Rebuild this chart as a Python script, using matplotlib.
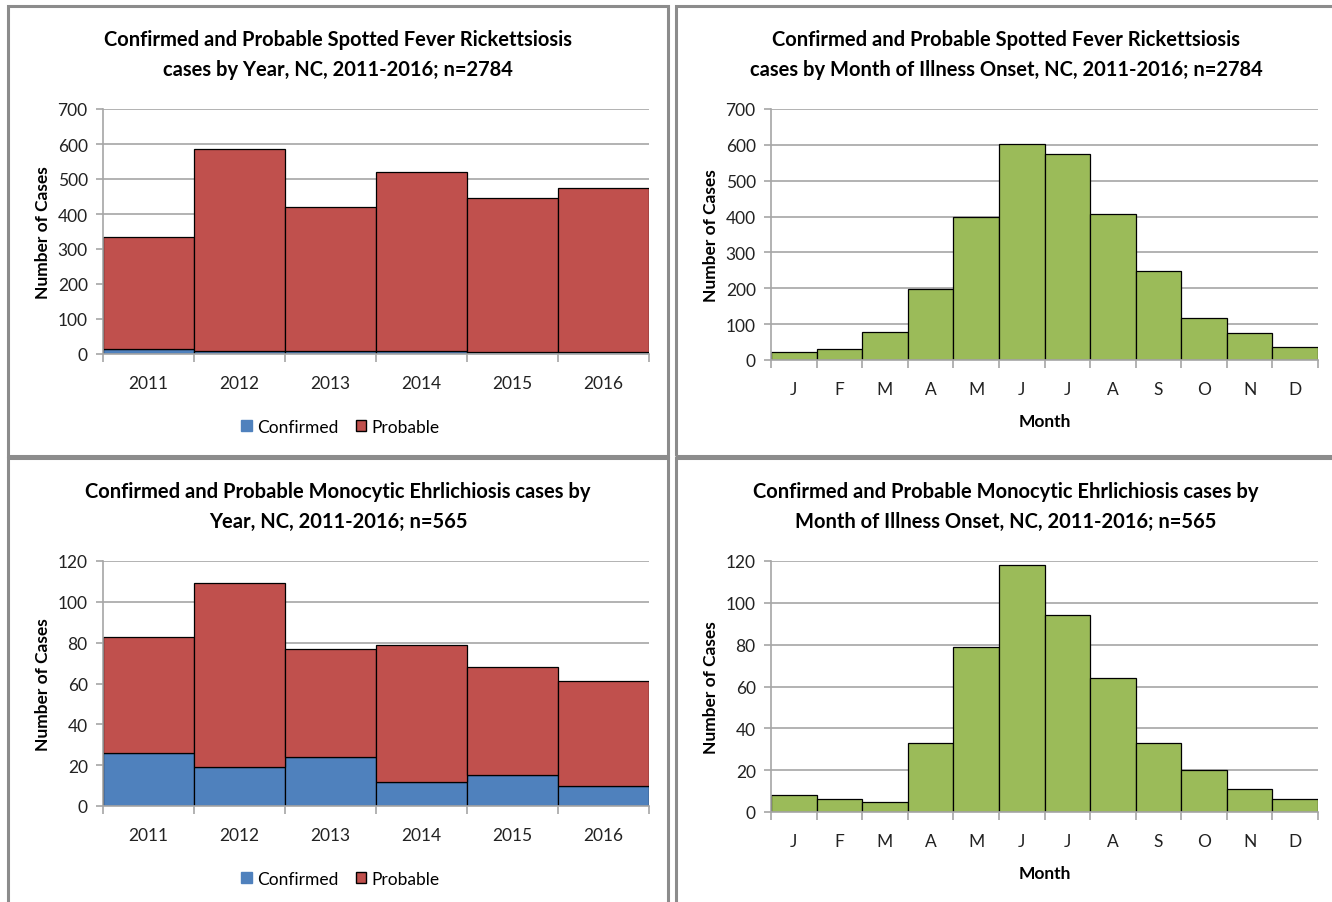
import matplotlib
matplotlib.use("Agg")
import matplotlib.pyplot as plt
from matplotlib import font_manager
from matplotlib.patches import Rectangle, Patch
import numpy as np

# ---- data ----
years = ["2011", "2012", "2013", "2014", "2015", "2016"]
months = ["J", "F", "M", "A", "M", "J", "J", "A", "S", "O", "N", "D"]

sfr_confirmed = [13, 10, 10, 8, 5, 5]
sfr_total = [335, 587, 421, 519, 447, 475]
sfr_by_month = [22, 31, 79, 199, 398, 601, 574, 406, 247, 117, 76, 36]

ehr_confirmed = [26, 19, 24, 12, 15, 10]
ehr_total = [83, 109, 77, 79, 68, 61]
ehr_by_month = [8, 6, 5, 33, 79, 118, 94, 64, 33, 20, 11, 6]

titles = [
    "Confirmed and Probable Spotted Fever Rickettsiosis\ncases by Year, NC, 2011-2016; n=2784",
    "Confirmed and Probable Spotted Fever Rickettsiosis\ncases by Month of Illness Onset, NC, 2011-2016; n=2784",
    "Confirmed and Probable Monocytic Ehrlichiosis cases by\nYear, NC, 2011-2016; n=565",
    "Confirmed and Probable Monocytic Ehrlichiosis cases by\nMonth of Illness Onset, NC, 2011-2016; n=565",
]

BLUE = "#4F81BD"
RED = "#C0504D"
GREEN = "#9BBB59"
GRID = "#A6A6A6"
BORDER = "#8C8C8C"

# pick a narrow-ish font if available
installed = {f.name for f in font_manager.fontManager.ttflist}
family = next((f for f in ["Liberation Sans Narrow", "Lato", "Open Sans", "DejaVu Sans"]
               if f in installed), "DejaVu Sans")
plt.rcParams["font.family"] = [family, "DejaVu Sans"]

W, H = 1332, 903
fig = plt.figure(figsize=(W / 100, H / 100), dpi=100)


def px_rect(l, t, r, b):
    return [l / W, 1 - b / H, (r - l) / W, (b - t) / H]


def fx(x):
    return x / W


def fy(y):
    return 1 - y / H


# panel borders (table-like frame)
for l, t, r, b in [(8, 7, 668, 457), (676, 7, 1340, 457),
                   (8, 459, 668, 910), (676, 459, 1340, 910)]:
    fig.patches.append(Rectangle((fx(l), fy(b)), fx(r) - fx(l), fy(t) - fy(b),
                                 transform=fig.transFigure, fill=False,
                                 edgecolor=BORDER, linewidth=2.2))


def style_axes(ax, n, ymax, ystep, labels):
    ax.set_xlim(-0.5, n - 0.5)
    ax.set_ylim(0, ymax)
    ax.set_yticks(np.arange(0, ymax + 1, ystep))
    ax.yaxis.grid(True, color=GRID, linewidth=1.2)
    ax.set_axisbelow(True)
    for s in ["top", "right"]:
        ax.spines[s].set_visible(False)
    for s in ["left", "bottom"]:
        ax.spines[s].set_color(GRID)
        ax.spines[s].set_linewidth(1.2)
    ax.set_xticks(np.arange(n))
    ax.set_xticklabels(labels)
    ax.set_xticks(np.arange(n + 1) - 0.5, minor=True)
    ax.tick_params(axis="x", which="major", length=0, pad=15, labelsize=12.5, colors="#222222")
    ax.tick_params(axis="x", which="minor", length=6, color=GRID, width=1.2)
    ax.tick_params(axis="y", length=5, color=GRID, width=1.2, pad=6, labelsize=12.5,
                   colors="#222222")
    ax.set_ylabel("Number of Cases", fontsize=12.5, fontweight="bold", labelpad=5)


def year_chart(rect, confirmed, total, ymax, ystep):
    ax = fig.add_axes(px_rect(*rect))
    x = np.arange(len(years))
    probable = np.array(total) - np.array(confirmed)
    ax.bar(x, confirmed, width=1.0, color=BLUE, edgecolor="black", linewidth=0.9)
    ax.bar(x, probable, width=1.0, bottom=confirmed, color=RED, edgecolor="black",
           linewidth=0.9)
    style_axes(ax, len(years), ymax, ystep, years)
    handles = [Patch(facecolor=BLUE, edgecolor=BLUE), Patch(facecolor=RED, edgecolor="black")]
    ax.legend(handles, ["Confirmed", "Probable"], loc="upper center",
              bbox_to_anchor=(0.435, -0.2), ncol=2, frameon=False, fontsize=12.5,
              handlelength=0.6, handleheight=0.6, handletextpad=0.3, columnspacing=1.0)
    return ax


def month_chart(rect, counts, ymax, ystep):
    ax = fig.add_axes(px_rect(*rect))
    x = np.arange(len(months))
    ax.bar(x, counts, width=1.0, color=GREEN, edgecolor="black", linewidth=0.9)
    style_axes(ax, len(months), ymax, ystep, months)
    ax.set_xlabel("Month", fontsize=12.5, fontweight="bold", labelpad=12)
    return ax


year_chart((103, 110, 649, 355), sfr_confirmed, sfr_total, 700, 100)
month_chart((771, 110, 1318, 361), sfr_by_month, 700, 100)
year_chart((103, 562, 649, 807), ehr_confirmed, ehr_total, 120, 20)
month_chart((771, 562, 1318, 813), ehr_by_month, 120, 20)

# panel titles
for (cx, cy), title in zip([(338, 55), (1006, 55), (338, 507), (1006, 507)], titles):
    fig.text(fx(cx), fy(cy), title, ha="center", va="center", fontsize=14.5,
             fontweight="bold", linespacing=1.6)

fig.savefig("out.png", dpi=100)
